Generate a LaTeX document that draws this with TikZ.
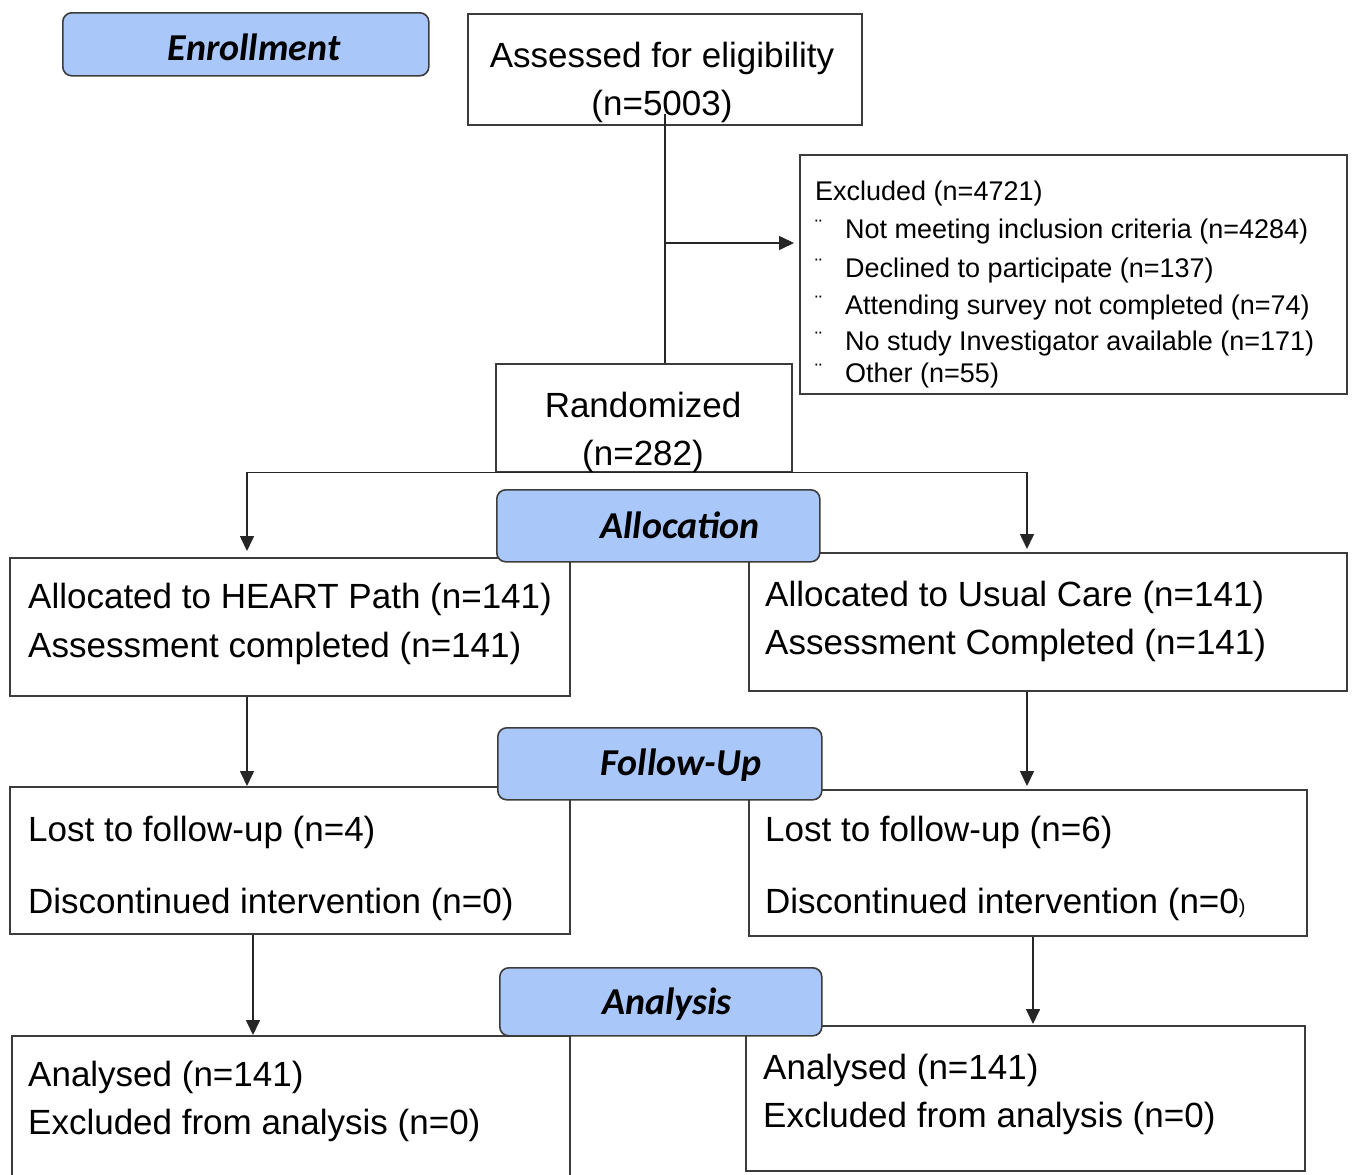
\documentclass[tikz,border=0pt]{standalone}
\usepackage{fontspec}
\setmainfont{Liberation Sans}
\newfontfamily\hdrfont{Carlito}
\usetikzlibrary{arrows.meta}
\definecolor{hdrblue}{RGB}{170,199,250}
\definecolor{boxline}{RGB}{60,60,60}
\begin{document}
\begin{tikzpicture}[x=1pt,y=-1pt,
 box/.style={draw=boxline, line width=1.6pt, fill=white, rectangle, inner sep=0pt, anchor=north west},
 hdr/.style={draw=boxline, line width=1.6pt, fill=hdrblue, rounded corners=9pt, inner sep=0pt, anchor=north west},
 txt/.style={font=\fontsize{35}{42}\selectfont, inner sep=0pt, anchor=base west},
 ctxt/.style={txt, anchor=base},
 stxt/.style={font=\fontsize{27}{32}\selectfont, inner sep=0pt, anchor=base west},
 bul/.style={font=\fontsize{21}{21}\selectfont, inner sep=0pt, anchor=base west},
 htxt/.style={font=\hdrfont\bfseries\itshape\fontsize{38}{44}\selectfont, inner sep=0pt, anchor=base},
 conn/.style={draw=black!85, line width=1.6pt},
 arr/.style={conn, -{Triangle[length=15pt,width=14pt]}},
]
\useasboundingbox (0,0) rectangle (1352,1175);
\fill[white] (0,0) rectangle (1352,1175);

% boxes
\node[box, minimum width=394pt, minimum height=111pt] (assess) at (467,13) {};
\node[box, minimum width=547pt, minimum height=239pt] (excl) at (799,154) {};
\node[box, minimum width=296pt, minimum height=108pt] (rand) at (495,363) {};
\node[box, minimum width=560pt, minimum height=138pt] (allocL) at (9,557) {};
\node[box, minimum width=598pt, minimum height=138pt] (allocR) at (748,552) {};
\node[box, minimum width=560pt, minimum height=147pt] (lostL) at (9,786) {};
\node[box, minimum width=558pt, minimum height=146pt] (lostR) at (748,789) {};
\node[box, minimum width=558pt, minimum height=160pt] (anaL) at (11,1035) {};
\node[box, minimum width=559pt, minimum height=145pt] (anaR) at (745,1025) {};

% connectors
\coordinate (br) at (664,243);
\coordinate (aL) at (247,557);
\coordinate (aR) at (1027,552);
\coordinate (bL) at (253,1035);
\coordinate (bR) at (1033,1025);
\draw[conn] ([yshift=12pt]assess.south) -- (assess.south |- rand.north);
\draw[arr, shorten >=5pt] (br) -- (br -| excl.west);
\draw[arr, shorten >=6pt] (rand.south) -| (aL);
\draw[arr, shorten >=3pt] (rand.south) -| (aR);
\draw[arr] (allocL.south -| aL) -- (lostL.north -| aL);
\draw[arr, shorten >=3pt] (allocR.south -| aR) -- (lostR.north -| aR);
\draw[arr] (lostL.south -| bL) -- (bL);
\draw[arr, shorten >=1pt] (lostR.south -| bR) -- (bR);

% headers
\node[hdr, minimum width=366pt, minimum height=63pt] (hEnr) at (62,12) {};
\node[hdr, minimum width=323pt, minimum height=72pt] (hAll) at (496,489) {};
\node[hdr, minimum width=324pt, minimum height=72pt] (hFol) at (497,727) {};
\node[hdr, minimum width=322pt, minimum height=68pt] (hAna) at (499,967) {};
\node[htxt] (tEnr) at (254,60) {Enrollment};
\node[htxt] (tAll) at (680,538) {Allocation};
\node[htxt] (tFol) at (681,775) {Follow-Up};
\node[htxt] (tAna) at (667,1014) {Analysis};

% texts
\node[ctxt] (t1) at (662,67) {Assessed for eligibility};
\node[ctxt] (t2) at (662,115) {(n=5003)};
\node[ctxt] (t3) at (643,417) {Randomized};
\node[ctxt] (t4) at (643,465) {(n=282)};

\node[stxt] (e0) at (815,200) {Excluded (n=4721)};
\node[bul] (b1) at (815,234) {¨};
\node[stxt] (e1) at (845,238) {Not meeting inclusion criteria (n=4284)};
\node[bul] (b2) at (815,273) {¨};
\node[stxt] (e2) at (845,277) {Declined to participate (n=137)};
\node[bul] (b3) at (815,310) {¨};
\node[stxt] (e3) at (845,314) {Attending survey not completed (n=74)};
\node[bul] (b4) at (815,346) {¨};
\node[stxt] (e4) at (845,350) {No study Investigator available (n=171)};
\node[bul] (b5) at (815,378) {¨};
\node[stxt] (e5) at (845,382) {Other (n=55)};

\node[txt] (l1) at (28,608) {Allocated to HEART Path (n=141)};
\node[txt] (l2) at (28,657) {Assessment completed (n=141)};
\node[txt] (r1) at (765,606) {Allocated to Usual Care (n=141)};
\node[txt] (r2) at (765,654) {Assessment Completed (n=141)};

\node[txt] (l3) at (28,841) {Lost to follow-up (n=4)};
\node[txt] (l4) at (28,913) {Discontinued intervention (n=0)};
\node[txt] (r3) at (765,841) {Lost to follow-up (n=6)};
\node[txt] (r4) at (765,913) {Discontinued intervention (n=0{\fontsize{20}{20}\selectfont)}};

\node[txt] (l5) at (28,1086) {Analysed (n=141)};
\node[txt] (l6) at (28,1134) {Excluded from analysis (n=0)};
\node[txt] (r5) at (763,1079) {Analysed (n=141)};
\node[txt] (r6) at (763,1127) {Excluded from analysis (n=0)};
\end{tikzpicture}
\end{document}
